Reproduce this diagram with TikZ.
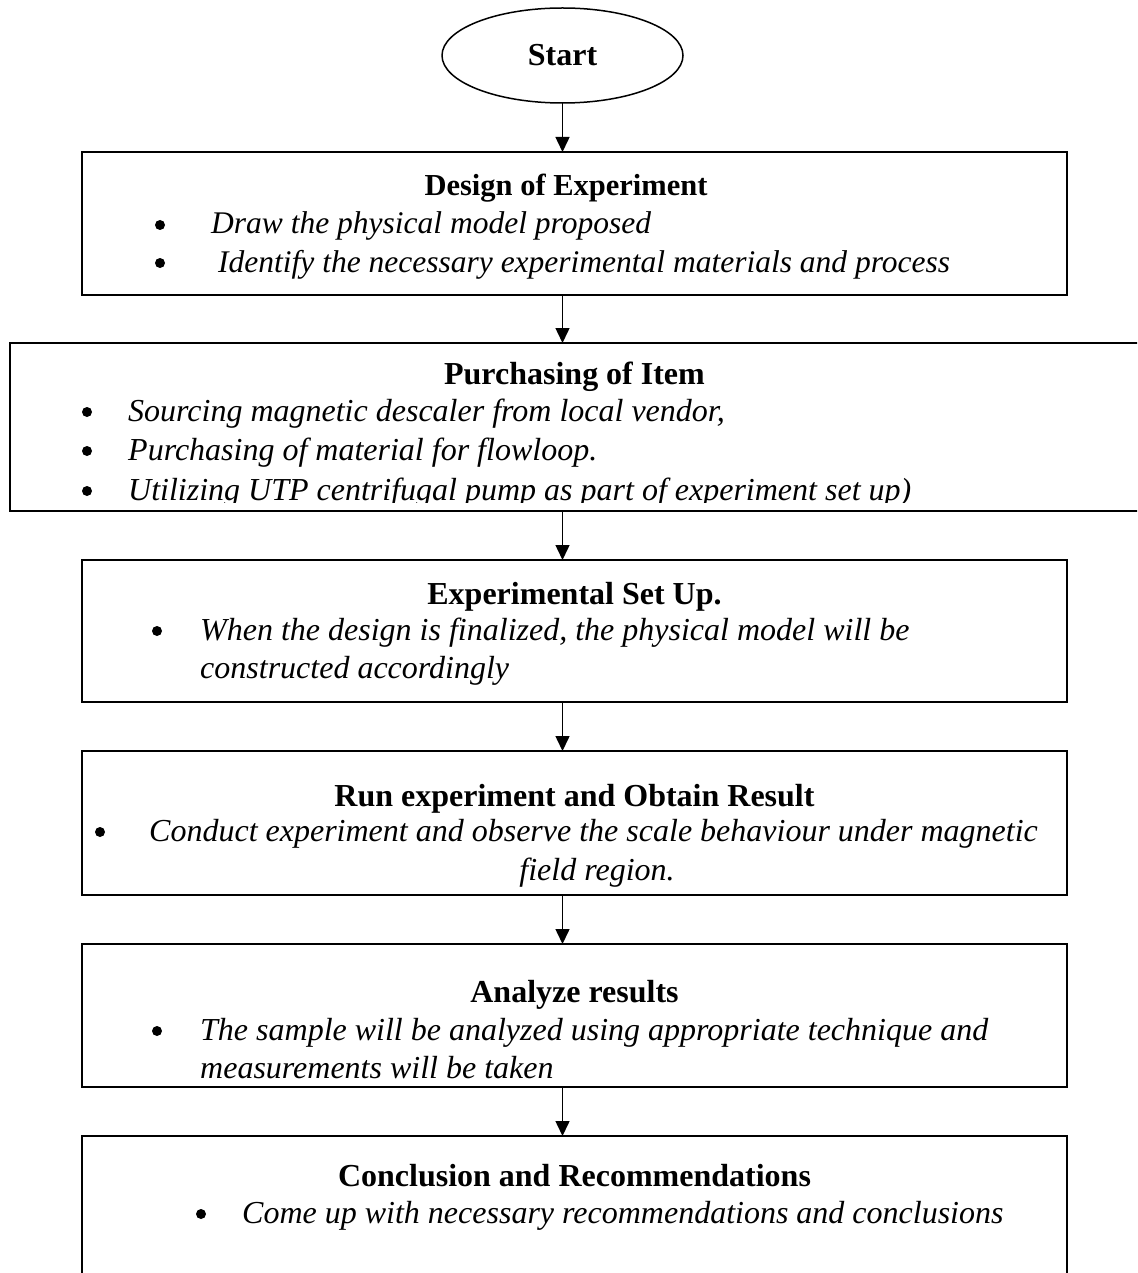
\documentclass[tikz,border=0pt]{standalone}
\usepackage{fontspec}
\setmainfont{Liberation Serif}
\usetikzlibrary{shapes.geometric,arrows.meta}
\begin{document}
\begin{tikzpicture}[x=1pt,y=-1pt,
  box/.style={draw, line width=2.2pt, rectangle, inner sep=0pt, outer sep=0pt, minimum width=985pt},
  arr/.style={-{Triangle[length=15pt,width=14pt]}, line width=1.5pt},
  ttl/.style={font=\fontsize{32}{37}\selectfont\bfseries, anchor=base, inner sep=0pt},
  itm/.style={font=\fontsize{32}{37}\selectfont\itshape, anchor=base west, inner sep=0pt},
  bul/.style={circle, fill, inner sep=0pt, minimum size=10pt}]
\clip (0,0) rectangle (1137,1273);
\fill[white] (0,0) rectangle (1137,1273);

% start
\node[draw, ellipse, line width=1.5pt, inner sep=0pt, outer sep=0pt,
      minimum width=241pt, minimum height=95pt,
      font=\fontsize{32}{37}\selectfont\bfseries] (start) at (562.5,55.5) {Start};

% boxes
\node[box, minimum height=143pt] (b1) at (574.5,223.5) {};
\node[box, minimum width=1150pt, minimum height=168pt] (b2) at (585,427) {};
\node[box, minimum height=142pt] (b3) at (574.5,631) {};
\node[box, minimum height=144pt] (b4) at (574.5,823) {};
\node[box, minimum height=143pt] (b5) at (574.5,1015.5) {};
\node[box, minimum height=164pt] (b6) at (574.5,1218) {};

% arrows
\draw[arr] (start.south) -- (start.south |- b1.north);
\draw[arr] (b1.south -| start) -- (start |- b2.north);
\draw[arr] (b2.south -| start) -- (start |- b3.north);
\draw[arr] (b3.south -| start) -- (start |- b4.north);
\draw[arr] (b4.south -| start) -- (start |- b5.north);
\draw[arr] (b5.south -| start) -- (start |- b6.north);

% box 1
\node[ttl, font=\fontsize{30.5}{35}\selectfont\bfseries] (t1) at (566,196) {Design of Experiment};
\node[bul] (u11) at (160,225) {};
\node[itm, font=\fontsize{31.5}{36}\selectfont\itshape] (i11) at (211,234) {Draw the physical model proposed};
\node[bul] (u12) at (160,263) {};
\node[itm, font=\fontsize{31.5}{36}\selectfont\itshape] (i12) at (218,272) {Identify the necessary experimental materials and process};

% box 2
\node[ttl] (t2) at (574.5,384) {Purchasing of Item};
\node[bul] (u21) at (87,412) {};
\node[itm] (i21) at (128,421) {Sourcing magnetic descaler from local vendor,};
\node[bul] (u22) at (87,451) {};
\node[itm] (i22) at (128,460) {Purchasing of material for flowloop.};
\node[bul] (u23) at (87,491) {};
\begin{scope}
\clip (10,343) rectangle (1137,502);
\node[itm] (i23) at (128,500) {Utilizing UTP centrifugal pump as part of experiment set up)};
\end{scope}

% box 3
\node[ttl] (t3) at (574.5,604) {Experimental Set Up.};
\node[bul] (u31) at (157,631) {};
\node[itm] (i31) at (200,640) {When the design is finalized, the physical model will be};
\node[itm] (i32) at (200,678) {constructed accordingly};

% box 4
\node[ttl] (t4) at (574.5,806) {Run experiment and Obtain Result};
\node[bul] (u41) at (100,832) {};
\node[itm] (i41) at (149,841) {Conduct experiment and observe the scale behaviour under magnetic};
\node[itm, anchor=base] (i42) at (597,880) {field region.};

% box 5
\node[ttl] (t5) at (574.5,1002) {Analyze results};
\node[bul] (u51) at (157,1031) {};
\node[itm] (i51) at (200,1040) {The sample will be analyzed using appropriate technique and};
\node[itm] (i52) at (200,1078) {measurements will be taken};

% box 6
\node[ttl] (t6) at (574.5,1186) {Conclusion and Recommendations};
\node[bul] (u61) at (201,1214) {};
\node[itm] (i61) at (242,1223) {Come up with necessary recommendations and conclusions};
\end{tikzpicture}
\end{document}
